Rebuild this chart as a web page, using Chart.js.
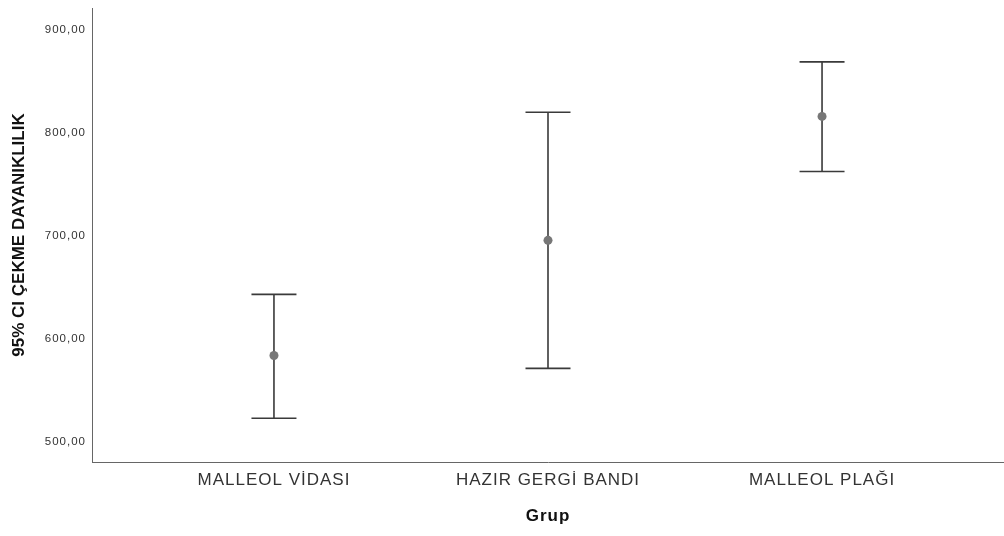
<!DOCTYPE html>
<html>
<head>
<meta charset="utf-8">
<script src="https://cdn.jsdelivr.net/npm/chart.js@4/dist/chart.umd.min.js"></script>
<style>
  html, body { margin: 0; padding: 0; background: #fff; }
  #wrap { width: 1004px; height: 536px; }
</style>
</head>
<body>
<div id="wrap"><canvas id="ciChart" width="1004" height="536"></canvas></div>
<script>
// Gruplar ve %95 güven aralıkları
const gruplar = ['MALLEOL VİDASI', 'HAZIR GERGİ BANDI', 'MALLEOL PLAĞI'];
const ortalama = [583.5, 695.5, 816.0];
const altSinir = [522.5, 571.0, 762.5];
const ustSinir = [643.0, 820.0, 869.0];
const yTikler = [500, 600, 700, 800, 900];

const CIZGI = '#3a3a3a', NOKTA = '#777777', EKSEN = '#666666';
const fmtSayi = v => v.toFixed(2).replace('.', ',');

// Hata çubukları (dikey çizgi + uç kapakları)
const hataCubugu = {
  id: 'hataCubugu',
  beforeDatasetsDraw(chart){
    const { ctx, scales: { x, y } } = chart;
    ctx.save();
    ctx.strokeStyle = CIZGI;
    ctx.lineWidth = 1.6;
    gruplar.forEach((g, i) => {
      const px = x.getPixelForValue(i + 1);
      const yAlt = y.getPixelForValue(altSinir[i]);
      const yUst = y.getPixelForValue(ustSinir[i]);
      ctx.beginPath();
      ctx.moveTo(px, yUst); ctx.lineTo(px, yAlt);
      ctx.moveTo(px - 22.5, yUst); ctx.lineTo(px + 22.5, yUst);
      ctx.moveTo(px - 22.5, yAlt); ctx.lineTo(px + 22.5, yAlt);
      ctx.stroke();
    });
    ctx.restore();
  }
};

// Yazılarda biraz harf aralığı; y ekseni başlığı hariç
const harfAraligi = {
  id: 'harfAraligi',
  afterLayout(chart){
    const ys = chart.scales.y;
    if (ys && !ys._aralikSarili) {
      const orj = ys.drawTitle;
      ys.drawTitle = function(...a){
        const c = this.ctx, eski = c.letterSpacing;
        c.letterSpacing = '0px';
        orj.apply(this, a);
        c.letterSpacing = eski;
      };
      ys._aralikSarili = true;
    }
  },
  beforeDraw(chart){ chart.ctx.letterSpacing = '1px'; },
  afterDraw(chart){ chart.ctx.letterSpacing = '0px'; }
};

new Chart(document.getElementById('ciChart'), {
  type: 'scatter',
  data: {
    datasets: [{
      data: ortalama.map((v, i) => ({ x: i + 1, y: v })),
      pointRadius: 4.5,
      pointBackgroundColor: NOKTA,
      pointBorderColor: NOKTA,
      pointBorderWidth: 0
    }]
  },
  plugins: [hataCubugu, harfAraligi],
  options: {
    responsive: false,
    animation: false,
    layout: { autoPadding: false, padding: { top: 8, right: 0, left: 0, bottom: 0 } },
    plugins: { legend: { display: false }, tooltip: { enabled: false } },
    scales: {
      x: {
        type: 'linear',
        min: 0.336,
        max: 3.664,
        afterBuildTicks: s => { s.ticks = gruplar.map((g, i) => ({ value: i + 1 })); },
        afterFit: s => { s.height = 74; s.paddingLeft = 0; s.paddingRight = 0; },
        grid: { display: false, drawTicks: false },
        border: { color: EKSEN, width: 1 },
        ticks: {
          padding: 8,
          autoSkip: false,
          maxRotation: 0,
          color: '#333',
          font: { family: 'Liberation Sans', size: 17 },
          callback: v => gruplar[v - 1]
        },
        title: {
          display: true,
          text: 'Grup',
          color: '#111',
          padding: { top: 0, bottom: 9 },
          font: { family: 'Liberation Sans', size: 17, weight: 'bold' }
        }
      },
      y: {
        min: 480,
        max: 921.4,
        afterBuildTicks: s => { s.ticks = yTikler.map(v => ({ value: v })); },
        afterFit: s => { s.width = 92; s.paddingTop = 0; s.paddingBottom = 0; },
        grid: { display: false, drawTicks: false },
        border: { color: EKSEN, width: 1 },
        ticks: {
          padding: 6,
          color: '#333',
          font: { family: 'Liberation Sans', size: 11.5 },
          callback: v => fmtSayi(v)
        },
        title: {
          display: true,
          text: '95% CI ÇEKME DAYANIKLILIK',
          color: '#111',
          padding: { top: 9, bottom: 0 },
          font: { family: 'Liberation Sans', size: 17, weight: 'bold' }
        }
      }
    }
  }
});
</script>
</body>
</html>
